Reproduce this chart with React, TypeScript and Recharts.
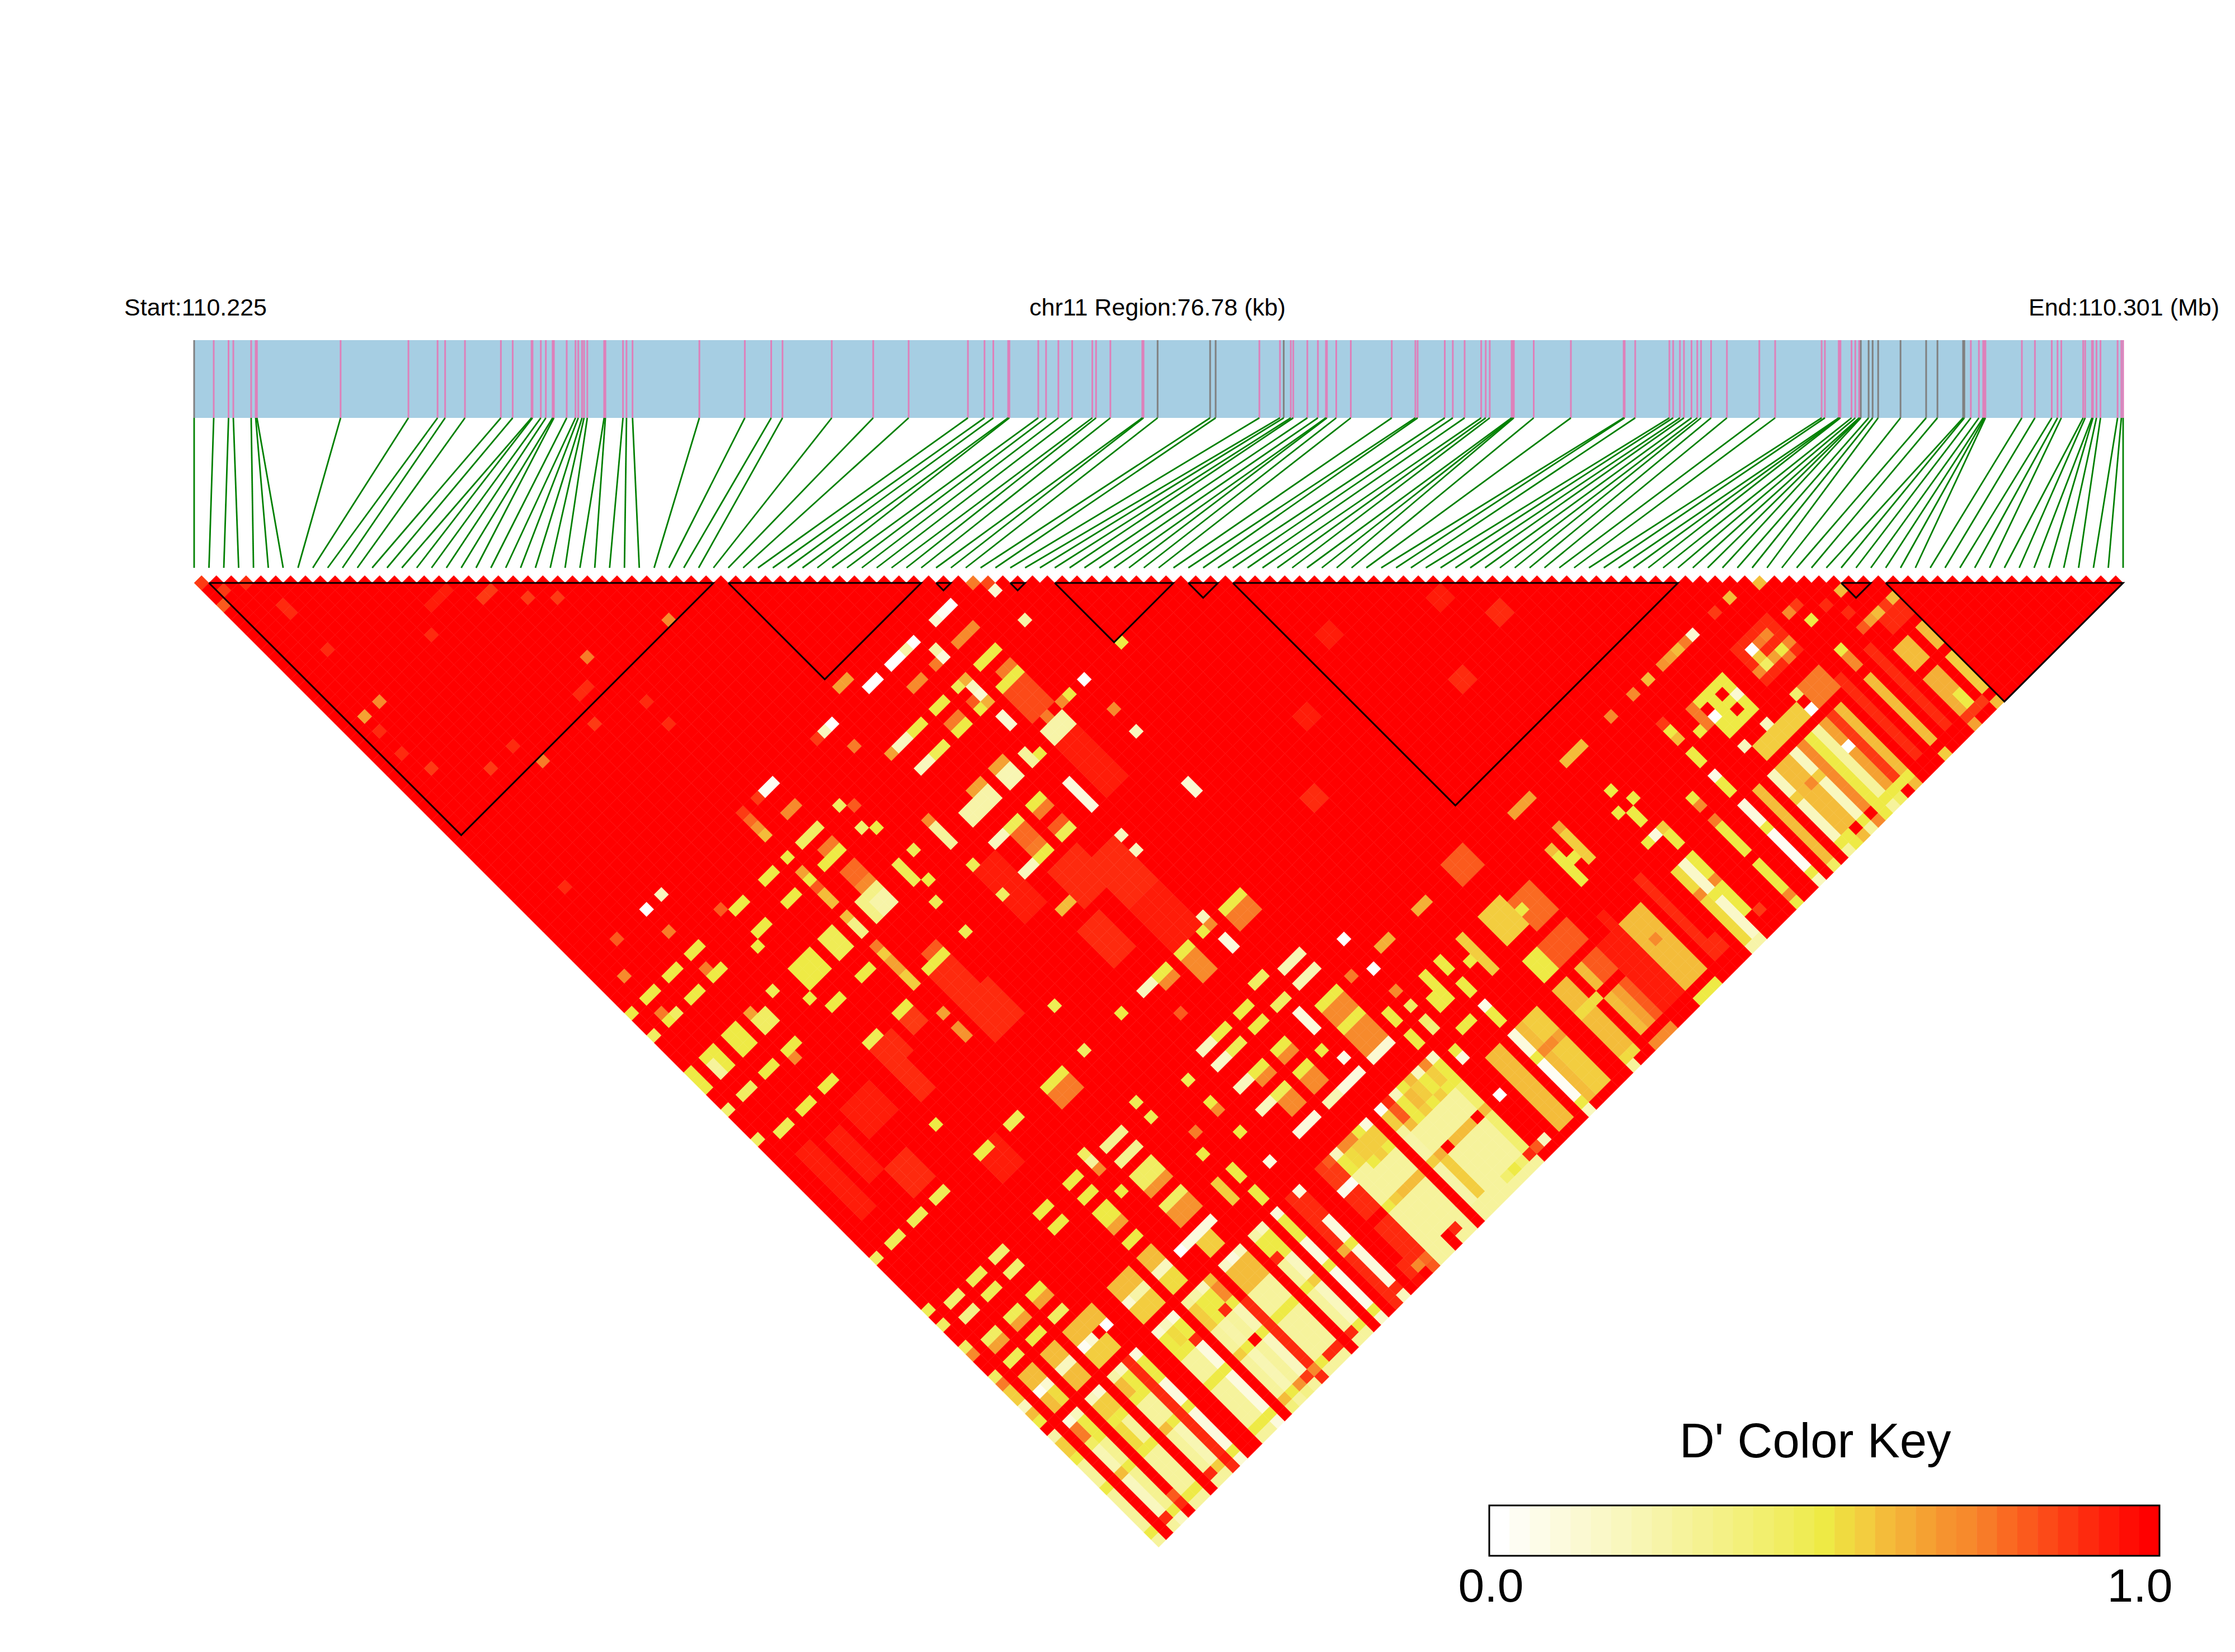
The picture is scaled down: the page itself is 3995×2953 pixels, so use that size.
import { ScatterChart, Scatter, XAxis, YAxis, ReferenceArea, ReferenceLine } from "recharts";

// SNP positions along the region, in kb from the start (110.225 Mb)
const snpKb = [
  0, 0.78, 1.37, 1.56, 2.27, 2.45, 2.5, 5.83, 8.53, 9.69, 9.99, 10.78, 12.21, 12.68, 13.43, 13.47, 13.8, 14.0, 14.27, 14.32,
  14.83, 15.18, 15.29, 15.44, 15.52, 15.65, 16.32, 16.37, 17.07, 17.21, 17.45, 20.11, 21.92, 22.97, 23.42, 25.38, 27.03, 28.44, 30.8, 31.46,
  31.81, 32.4, 32.45, 33.6, 33.91, 34.4, 34.95, 35.75, 35.9, 36.47, 37.74, 37.79, 38.35, 40.44, 40.66, 42.4, 43.22, 43.37, 43.65, 43.75,
  44.31, 44.73, 45.05, 45.09, 45.46, 46.04, 47.67, 48.61, 48.7, 49.78, 50.1, 50.57, 51.23, 51.41, 51.57, 52.44, 52.49, 52.53, 53.32, 54.8,
  56.9, 56.94, 57.36, 58.72, 58.87, 59.14, 59.3, 59.6, 59.83, 59.98, 60.38, 61.01, 62.3, 62.93, 64.78, 64.91, 65.46, 65.5, 65.53, 65.97,
  66.12, 66.27, 66.3, 66.34, 66.65, 66.81, 67.03, 67.92, 68.94, 69.39, 70.41, 70.46, 70.72, 71.04, 71.21, 71.26, 71.3, 72.75, 73.27, 73.94,
  74.17, 74.32, 75.19, 75.27, 75.54, 75.58, 75.72, 75.88, 76.56, 76.71, 76.78,
];
const greySnps = [0, 52, 53, 54, 57, 103, 104, 105, 106, 107, 108, 109, 110, 111];
const regionKb = 76.78;

// LD blocks as [first SNP, last SNP]
const ldBlocks = [[1, 35], [36, 49], [50, 51], [55, 56], [58, 66], [67, 69], [70, 100], [111, 113], [114, 130]];

// colour key, white to red
const keyColors = [
  "#FFFFFF", "#FEFDF3", "#FDFCE8", "#FCFADD", "#FBF9D2", "#FAF8C8", "#F9F7BE", "#F8F6B3", "#F7F4A8", "#F6F39C", "#F5F291",
  "#F4F186", "#F3F07A", "#F2EF6E", "#F1ED62", "#EFEC55", "#EEEA45", "#F0DB40", "#F3CD3F", "#F4BC3A", "#F4AF37", "#F5A132",
  "#F6932F", "#F78A2C", "#F87B28", "#FA6A22", "#FB5A1D", "#FC4A18", "#FD3A13", "#FE2A0E", "#FF1C09", "#FF0D04", "#FF0000",
];

// j groups of the lower right stripes
const tailBands = [[116, 116], [117, 118], [119, 119], [120, 122], [123, 123], [124, 128], [129, 129], [130, 130]];
// D' x 100 of SNP i against each j group, i = 0..61
const tailRows = [
  [25, 55, 50, 28, 50, 28, 50, 28], [100, 100, 100, 100, 100, 100, 100, 100], [12, 75, 45, 22, 58, 20, 90, 28], [20, 50, 50, 32, 50, 32, 50, 20],
  [100, 100, 100, 100, 100, 100, 88, 100], [20, 55, 50, 52, 50, 30, 50, 30], [15, 55, 50, 30, 50, 30, 50, 30], [100, 100, 100, 100, 100, 100, 100, 100],
  [25, 60, 50, 28, 60, 28, 90, 28], [20, 50, 50, 30, 50, 22, 55, 30], [90, 90, 90, 90, 90, 90, 92, 90], [12, 50, 50, 12, 50, 12, 50, 15],
  [100, 100, 100, 100, 100, 100, 100, 100], [100, 100, 100, 100, 100, 100, 100, 100], [15, 50, 50, 28, 50, 28, 50, 28], [20, 52, 50, 30, 50, 28, 50, 28],
  [12, 50, 90, 12, 50, 10, 50, 12], [100, 100, 100, 100, 100, 100, 100, 100], [30, 55, 55, 28, 55, 28, 58, 38], [25, 50, 50, 25, 50, 22, 50, 30],
  [20, 50, 88, 30, 100, 30, 68, 35], [60, 70, 50, 22, 50, 20, 85, 30], [100, 100, 100, 90, 90, 90, 72, 90], [18, 58, 60, 30, 50, 30, 50, 30],
  [12, 58, 58, 30, 50, 30, 90, 30], [20, 60, 60, 30, 50, 30, 90, 28], [100, 100, 100, 100, 100, 100, 100, 100], [25, 50, 90, 28, 50, 28, 90, 28],
  [20, 50, 50, 20, 55, 20, 50, 30], [100, 100, 100, 100, 100, 100, 100, 100], [10, 50, 50, 10, 50, 8, 50, 18], [100, 100, 100, 100, 100, 100, 100, 100],
  [88, 90, 90, 88, 62, 88, 88, 90], [12, 90, 88, 12, 50, 12, 90, 20], [100, 100, 100, 100, 100, 100, 100, 100], [100, 100, 100, 100, 100, 100, 88, 95],
  [85, 85, 8, 88, 100, 88, 72, 100], [80, 85, 5, 88, 100, 88, 78, 80], [20, 50, 30, 28, 50, 28, 30, 30], [70, 52, 30, 28, 55, 28, 30, 30],
  [70, 55, 50, 30, 60, 30, 100, 100], [50, 55, 55, 28, 60, 28, 88, 30], [12, 55, 50, 28, 60, 30, 30, 30], [100, 100, 100, 100, 100, 100, 100, 100],
  [5, 55, 30, 25, 55, 25, 30, 30], [88, 80, 60, 30, 62, 55, 30, 30], [20, 50, 50, 28, 100, 28, 30, 30], [50, 60, 55, 28, 60, 28, 30, 30],
  [60, 55, 50, 28, 60, 30, 40, 30], [20, 50, 55, 30, 60, 30, 50, 30], [70, 55, 50, 30, 100, 30, 40, 30], [18, 50, 50, 40, 60, 40, 88, 30],
  [100, 100, 100, 100, 100, 100, 80, 100], [100, 100, 100, 100, 3, 100, 20, 100], [100, 100, 100, 100, 100, 100, 100, 100], [50, 100, 100, 60, 60, 60, 60, 100],
  [50, 100, 100, 60, 60, 60, 60, 100], [100, 100, 100, 100, 100, 100, 100, 100], [8, 50, 100, 12, 50, 5, 50, 20], [100, 100, 100, 58, 70, 58, 58, 100],
  [100, 100, 100, 55, 72, 55, 55, 100], [100, 100, 100, 55, 65, 55, 55, 100],
];

// other cells that are not full red: [i from, i to, j from, j to, D' x 100]
const lowPatches = [
  // faint red zones
  [41, 44, 80, 85, 88], [36, 38, 84, 88, 88], [38, 41, 78, 82, 88], [23, 26, 81, 85, 90], [23, 25, 77, 80, 88], [14, 16, 78, 80, 88], [8, 11, 80, 83, 92],
  [14, 15, 81, 84, 90], [7, 9, 87, 90, 90], [14, 16, 92, 95, 92], [2, 3, 80, 88, 93], [5, 6, 81, 86, 93],
  [41, 44, 86, 91, 93], [33, 35, 73, 79, 93], [47, 49, 70, 76, 92], [85, 86, 90, 91, 90], [78, 79, 92, 93, 90], [82, 83, 85, 86, 92], [91, 92, 88, 89, 92], [72, 73, 80, 81, 92], [60, 61, 90, 91, 90], [65, 66, 84, 85, 92],
  // block one spots and top row
  [0, 0, 1, 1, 85], [3, 3, 4, 4, 88], [1, 1, 3, 3, 85], [0, 0, 4, 4, 80], [14, 16, 18, 18, 93], [18, 19, 21, 21, 85], [4, 4, 8, 9, 88], [4, 4, 14, 14, 88], [4, 4, 21, 21, 70],
  [2, 2, 21, 21, 65], [12, 12, 20, 20, 88], [21, 21, 24, 24, 85], [23, 23, 26, 26, 85], [21, 21, 32, 32, 75], [29, 29, 35, 35, 70], [17, 17, 37, 37, 85], [11, 11, 36, 36, 75],
  [22, 22, 39, 39, 88], [4, 4, 46, 46, 88], [52, 52, 53, 53, 75], [53, 53, 54, 54, 82], [105, 105, 106, 106, 58], [102, 102, 105, 105, 60], [100, 100, 105, 105, 85],
  [18, 19, 34, 34, 90], [10, 10, 33, 33, 90], [7, 7, 33, 33, 85], [3, 3, 29, 29, 85], [2, 2, 26, 26, 90], [2, 2, 23, 23, 90], [22, 22, 42, 42, 90],
  [105, 105, 110, 110, 70], [106, 106, 110, 110, 85], [106, 106, 112, 112, 50], [108, 108, 112, 112, 90], [109, 109, 114, 114, 90], [110, 110, 112, 112, 60],
  // j = 53 and 56 line
  [10, 10, 53, 53, 20], [8, 8, 53, 53, 3], [4, 4, 53, 53, 80], [8, 8, 56, 56, 75], [2, 2, 56, 56, 70], [24, 25, 53, 53, 5], [23, 23, 53, 53, 85], [24, 25, 56, 56, 72],
  [49, 49, 53, 53, 3], [48, 48, 53, 53, 5], [47, 47, 53, 53, 15], [44, 44, 53, 53, 3], [43, 43, 53, 53, 25], [41, 42, 53, 53, 3], [38, 39, 53, 53, 3], [33, 33, 53, 53, 3], [32, 32, 53, 53, 20], [31, 31, 53, 53, 85],
  [53, 53, 55, 55, 15], [47, 49, 56, 56, 72], [45, 45, 55, 55, 25], [45, 45, 56, 56, 10], [44, 44, 56, 56, 75], [41, 42, 56, 56, 72], [36, 37, 51, 51, 65], [33, 33, 56, 56, 75],
  [21, 21, 53, 53, 85], [21, 21, 54, 54, 78], [21, 21, 55, 55, 68], [21, 21, 56, 56, 60],
  // j = 59 to 65
  [28, 28, 59, 59, 45], [29, 29, 60, 60, 80], [23, 25, 59, 59, 45], [23, 25, 62, 62, 50], [24, 25, 61, 61, 75], [24, 25, 64, 65, 78], [21, 21, 59, 59, 50], [21, 21, 61, 61, 65], [21, 21, 62, 62, 50], [21, 21, 63, 63, 80], [21, 21, 64, 65, 60],
  [18, 19, 59, 59, 50], [18, 19, 62, 62, 50], [14, 15, 59, 59, 50], [13, 13, 58, 58, 80], [14, 15, 62, 62, 50], [13, 13, 63, 63, 50], [8, 9, 59, 59, 50], [5, 6, 59, 59, 50], [8, 9, 62, 62, 50], [8, 8, 61, 61, 75], [5, 6, 62, 62, 50], [2, 3, 59, 59, 50],
  [0, 0, 59, 59, 50], [2, 2, 62, 62, 50], [3, 3, 62, 62, 45], [2, 2, 61, 61, 75], [0, 0, 62, 62, 45], [47, 49, 59, 59, 50], [53, 53, 59, 59, 25], [47, 49, 62, 62, 50], [48, 49, 61, 61, 75], [47, 49, 63, 66, 82],
  [44, 44, 59, 59, 48], [45, 45, 59, 59, 62], [45, 45, 60, 60, 20], [45, 45, 61, 61, 15], [45, 45, 62, 62, 62], [44, 44, 62, 62, 50], [44, 44, 61, 61, 80], [41, 42, 59, 59, 50], [41, 42, 62, 62, 50], [41, 42, 61, 61, 75], [45, 45, 64, 65, 15],
  [38, 39, 59, 59, 50], [36, 37, 59, 59, 20], [35, 35, 59, 59, 65], [38, 39, 62, 62, 48], [36, 37, 62, 62, 20], [28, 28, 62, 62, 42], [29, 29, 63, 63, 50], [33, 33, 66, 66, 70],
  // j = 66 to 76
  [23, 25, 67, 69, 35], [24, 25, 68, 69, 25], [24, 25, 66, 66, 70], [21, 21, 67, 67, 60], [21, 21, 68, 69, 35], [18, 19, 67, 69, 48], [14, 16, 67, 69, 50], [13, 13, 70, 70, 50], [11, 11, 67, 67, 48], [8, 8, 67, 67, 65], [8, 9, 68, 69, 45], [5, 6, 67, 69, 50],
  [2, 3, 67, 69, 50], [2, 2, 68, 69, 30], [0, 0, 67, 69, 50], [30, 30, 67, 67, 48], [28, 28, 67, 69, 48], [29, 29, 70, 70, 50], [33, 33, 67, 69, 30], [36, 39, 68, 69, 25], [38, 39, 67, 67, 65], [41, 42, 68, 69, 22], [41, 42, 67, 67, 65],
  [50, 50, 67, 67, 72], [51, 51, 67, 67, 50], [53, 53, 67, 67, 3], [48, 48, 67, 67, 75], [47, 49, 68, 69, 25], [58, 58, 67, 67, 50], [45, 45, 69, 69, 50], [44, 44, 68, 69, 30],
  [5, 6, 72, 72, 50], [2, 3, 72, 72, 45], [0, 0, 72, 72, 40], [8, 9, 72, 72, 50], [8, 8, 73, 73, 72], [14, 15, 72, 72, 50], [18, 19, 72, 72, 50], [21, 21, 71, 71, 75], [21, 21, 72, 72, 55], [21, 21, 73, 74, 65], [21, 21, 75, 76, 55],
  [36, 37, 72, 72, 20], [38, 39, 72, 72, 48], [38, 39, 73, 74, 78], [41, 42, 72, 72, 50], [41, 42, 73, 73, 75], [28, 28, 72, 72, 48], [33, 33, 72, 72, 48], [53, 53, 71, 71, 70], [53, 53, 74, 74, 20], [45, 45, 73, 76, 12], [24, 25, 75, 75, 80], [23, 25, 76, 76, 50],
  [41, 42, 76, 76, 48], [41, 42, 75, 75, 80], [36, 37, 76, 76, 20], [38, 39, 76, 76, 50], [38, 39, 75, 75, 75], [28, 28, 76, 76, 48], [33, 33, 76, 76, 45],
  // j = 77 to 92
  [5, 6, 77, 77, 50], [2, 3, 77, 77, 48], [0, 0, 76, 76, 45], [8, 9, 77, 77, 50], [14, 15, 77, 77, 48], [18, 19, 77, 77, 50], [18, 19, 78, 79, 85], [21, 21, 80, 80, 65], [21, 21, 82, 83, 68], [36, 37, 81, 81, 60], [45, 45, 80, 80, 20], [45, 45, 82, 82, 20],
  [53, 53, 81, 81, 15], [53, 53, 82, 82, 15], [13, 13, 87, 87, 50], [29, 29, 87, 87, 48], [14, 15, 92, 92, 50], [18, 19, 92, 92, 48], [23, 25, 92, 92, 50], [23, 25, 93, 94, 75], [28, 28, 92, 92, 45], [33, 33, 92, 92, 50], [36, 37, 92, 92, 20], [38, 39, 92, 92, 50], [38, 39, 93, 93, 70],
  [8, 9, 92, 92, 48], [5, 6, 92, 92, 48], [2, 3, 92, 92, 48], [0, 0, 92, 92, 45], [45, 45, 91, 91, 20], [44, 44, 92, 92, 50], [45, 45, 92, 92, 70], [41, 42, 92, 92, 50], [41, 42, 93, 95, 72], [47, 49, 92, 92, 50], [47, 49, 93, 94, 75], [45, 45, 94, 95, 12], [37, 37, 96, 96, 80],
  // j = 99 to 102
  [28, 28, 99, 99, 48], [21, 21, 99, 99, 45], [21, 21, 100, 100, 30], [21, 21, 101, 101, 70], [23, 25, 100, 100, 33], [23, 25, 102, 102, 33], [18, 19, 100, 100, 50], [18, 19, 102, 102, 50], [14, 15, 100, 100, 50], [14, 15, 102, 102, 50], [28, 28, 101, 101, 48],
  [8, 9, 100, 100, 40], [8, 9, 102, 102, 40], [5, 6, 100, 100, 48], [5, 6, 102, 102, 48], [2, 3, 100, 100, 40], [2, 3, 102, 102, 35], [0, 0, 99, 99, 48], [0, 0, 101, 101, 45], [33, 33, 101, 101, 48],
  [36, 37, 100, 100, 20], [38, 39, 100, 100, 50], [36, 37, 102, 102, 18], [38, 39, 102, 102, 48], [41, 42, 100, 100, 50], [41, 42, 102, 102, 50], [44, 45, 99, 99, 45], [44, 45, 102, 102, 45], [47, 49, 100, 100, 22], [47, 49, 102, 102, 22], [53, 53, 102, 102, 3],
  // j = 104 to 114
  [23, 25, 104, 105, 45], [23, 25, 106, 106, 68], [18, 19, 104, 105, 50], [18, 19, 106, 106, 65], [21, 21, 104, 104, 50], [5, 6, 105, 105, 48], [5, 6, 106, 106, 65], [8, 9, 105, 105, 50], [8, 9, 106, 106, 65], [8, 9, 108, 108, 45], [2, 3, 105, 105, 45], [2, 3, 106, 106, 65], [5, 6, 108, 108, 50], [2, 3, 108, 108, 48],
  [36, 37, 105, 105, 20], [38, 39, 105, 105, 50], [38, 39, 106, 106, 70], [36, 37, 108, 108, 20], [38, 39, 108, 108, 48], [38, 39, 109, 110, 72], [41, 42, 105, 105, 50], [41, 42, 106, 106, 70], [41, 42, 108, 108, 50], [41, 42, 109, 110, 70], [44, 44, 108, 108, 50], [45, 45, 104, 106, 10], [45, 45, 110, 110, 8],
  [47, 49, 105, 105, 50], [47, 49, 106, 108, 72], [47, 49, 108, 108, 50], [47, 49, 109, 111, 72], [47, 49, 112, 112, 15], [51, 51, 105, 105, 75], [53, 53, 106, 106, 3], [53, 53, 109, 109, 72], [53, 53, 111, 111, 45], [55, 56, 105, 105, 62], [60, 61, 105, 105, 62], [51, 51, 110, 111, 50], [53, 53, 113, 113, 42], [53, 53, 114, 114, 38], [51, 51, 113, 114, 50],
  [33, 33, 104, 104, 50], [33, 33, 105, 105, 70], [33, 33, 108, 108, 50], [30, 30, 105, 105, 75], [29, 29, 107, 107, 50], [30, 30, 110, 111, 50], [30, 30, 113, 114, 50], [33, 33, 112, 112, 10], [23, 25, 108, 108, 45], [23, 25, 109, 110, 68], [18, 19, 108, 108, 50],
  [5, 6, 110, 114, 58], [5, 6, 112, 112, 20], [2, 3, 110, 111, 58], [3, 3, 112, 112, 15], [2, 2, 112, 112, 5], [3, 3, 113, 114, 52], [2, 2, 113, 114, 60], [11, 11, 112, 112, 3], [9, 9, 112, 112, 15], [8, 8, 112, 112, 5], [8, 11, 110, 111, 58], [8, 10, 113, 114, 55],
  [14, 16, 110, 111, 58], [14, 14, 112, 112, 15], [15, 16, 112, 112, 25], [14, 16, 113, 114, 55], [18, 19, 110, 111, 58], [18, 19, 112, 112, 20], [18, 19, 113, 114, 52],
  [21, 21, 112, 112, 3], [22, 22, 112, 112, 10], [23, 25, 112, 112, 12], [23, 24, 113, 114, 55], [37, 39, 112, 112, 12], [41, 42, 112, 112, 22], [43, 45, 112, 112, 10], [28, 28, 110, 112, 55], [55, 56, 112, 113, 50], [56, 56, 110, 111, 50], [58, 58, 110, 111, 50], [58, 58, 113, 114, 50], [60, 60, 112, 112, 50], [61, 61, 110, 114, 55],
  [0, 0, 104, 104, 45], [0, 0, 105, 105, 70], [0, 0, 108, 108, 45], [0, 0, 109, 109, 75], [0, 0, 110, 111, 55], [0, 0, 112, 112, 20], [0, 0, 113, 113, 58], [0, 0, 114, 114, 50],
  // SNP i > 60, upper part
  [65, 67, 104, 106, 80], [73, 75, 105, 105, 65], [81, 81, 110, 110, 50], [82, 82, 112, 112, 50], [80, 80, 112, 112, 50], [81, 81, 113, 114, 50], [73, 73, 110, 110, 60], [73, 73, 111, 114, 50], [75, 75, 109, 109, 65], [75, 75, 110, 113, 55], [74, 74, 112, 112, 50],
  [64, 66, 110, 113, 55], [67, 69, 111, 114, 78], [67, 67, 112, 112, 50], [64, 65, 116, 118, 50], [66, 69, 116, 118, 80], [89, 89, 109, 109, 85], [89, 89, 110, 110, 50], [89, 89, 111, 111, 58], [91, 91, 112, 112, 50], [89, 89, 113, 114, 50], [91, 91, 105, 105, 60], [89, 89, 105, 105, 70], [86, 86, 105, 105, 70], [80, 82, 105, 105, 60],
  [97, 97, 105, 105, 15], [96, 96, 105, 105, 75], [95, 95, 105, 105, 58], [94, 94, 105, 105, 65], [93, 93, 105, 105, 68], [93, 96, 110, 114, 50], [92, 92, 110, 112, 75], [93, 93, 112, 112, 3], [96, 96, 112, 112, 15], [95, 95, 111, 111, 100], [95, 95, 113, 113, 100], [93, 93, 111, 111, 100],
  [99, 103, 109, 113, 88], [100, 100, 110, 110, 3], [100, 100, 112, 112, 45], [102, 102, 112, 112, 50], [100, 100, 111, 111, 55], [102, 102, 110, 110, 70], [101, 101, 112, 112, 65], [99, 99, 112, 112, 70], [103, 103, 112, 112, 72], [101, 101, 110, 110, 75], [102, 102, 113, 113, 75],
  [106, 106, 116, 116, 50], [106, 106, 117, 118, 70], [100, 100, 118, 118, 3], [100, 100, 116, 116, 40], [96, 96, 116, 116, 20], [93, 93, 116, 116, 20], [94, 99, 117, 118, 55], [101, 103, 116, 118, 75], [111, 111, 116, 116, 58], [110, 110, 116, 116, 65], [113, 113, 116, 116, 60], [109, 109, 116, 116, 80], [112, 112, 116, 116, 85], [111, 113, 117, 118, 88],
  // SNP i > 60, lower right stripes
  [64, 65, 120, 128, 60], [64, 66, 123, 123, 52], [64, 65, 129, 129, 52], [64, 64, 130, 130, 30], [67, 67, 120, 122, 60], [68, 69, 120, 122, 80], [67, 67, 124, 128, 60], [68, 68, 124, 128, 65], [69, 69, 124, 128, 80], [67, 69, 130, 130, 70], [70, 71, 120, 128, 92],
  [73, 75, 120, 128, 58], [74, 74, 123, 123, 72], [74, 74, 129, 129, 100], [73, 75, 130, 130, 50], [77, 77, 118, 128, 90], [72, 72, 118, 128, 92], [78, 78, 127, 128, 88],
  [80, 80, 120, 129, 52], [81, 81, 120, 129, 18], [82, 82, 120, 127, 50], [80, 80, 123, 123, 72], [82, 82, 123, 123, 72], [83, 83, 128, 128, 85], [81, 81, 124, 124, 50], [80, 81, 130, 130, 25], [80, 80, 116, 116, 50], [81, 81, 116, 116, 10], [82, 82, 116, 116, 55], [82, 82, 117, 118, 50],
  [86, 86, 116, 116, 50], [86, 86, 117, 117, 70], [86, 86, 119, 119, 75], [86, 86, 120, 123, 50], [86, 86, 125, 128, 50], [86, 86, 129, 129, 70], [86, 86, 130, 130, 50],
  [89, 89, 116, 116, 8], [89, 89, 117, 118, 50], [89, 89, 120, 122, 12], [89, 89, 123, 123, 50], [89, 89, 124, 128, 5], [89, 89, 129, 129, 50], [89, 89, 130, 130, 20], [91, 91, 120, 129, 58], [91, 91, 130, 130, 45],
  [93, 93, 120, 122, 20], [93, 93, 123, 123, 55], [93, 93, 124, 128, 20], [94, 95, 120, 128, 58], [95, 95, 123, 123, 72], [96, 96, 120, 128, 20], [96, 96, 123, 123, 55], [97, 97, 120, 128, 72], [98, 98, 120, 128, 50], [99, 99, 120, 128, 28], [100, 100, 120, 128, 65], [100, 100, 123, 123, 3], [101, 101, 120, 128, 85], [102, 102, 120, 128, 58],
  [93, 102, 129, 129, 50], [93, 102, 130, 130, 30], [95, 95, 129, 129, 100], [97, 97, 129, 129, 100], [94, 94, 130, 130, 50], [95, 95, 130, 130, 60], [97, 97, 130, 130, 72], [98, 98, 130, 130, 50], [100, 100, 130, 130, 45], [101, 101, 130, 130, 100], [102, 102, 130, 130, 58], [110, 110, 130, 130, 65],
  [104, 104, 118, 128, 90], [106, 106, 120, 128, 58], [106, 106, 130, 130, 55], [108, 108, 118, 128, 90],
  [110, 111, 120, 122, 60], [110, 111, 124, 128, 62], [111, 111, 127, 128, 50], [113, 113, 120, 122, 60], [113, 113, 124, 128, 55], [113, 113, 130, 130, 58], [110, 112, 129, 129, 85],
  // single cells after the table
  [53, 53, 117, 117, 50], [53, 53, 118, 118, 10], [4, 4, 128, 128, 80], [2, 2, 116, 116, 12], [35, 35, 128, 128, 90],
];

const CELL = 13.26; // half diagonal of one diamond in pixels
const W = 3995;
const H = 2953;
const LEFT = 347;
const PITCH = (3795 - LEFT) / 130;
const TOP = 1042;

const colorOf = (v: number) => keyColors[Math.min(32, Math.floor(v * 33))];

const xAt = (px: number) => (px - LEFT) / PITCH;
const yAt = (px: number) => (px - TOP) / CELL;

function buildCells() {
  const n = snpKb.length;
  const grid: Record<string, number> = {};
  tailRows.forEach((row, i) => {
    row.forEach((v, g) => {
      for (let j = tailBands[g][0]; j <= tailBands[g][1]; j++) grid[i + "," + j] = v;
    });
  });
  lowPatches.forEach(([i0, i1, j0, j1, v]) => {
    for (let i = i0; i <= i1; i++) for (let j = j0; j <= j1; j++) grid[i + "," + j] = v;
  });
  const out: { x: number; y: number; v: number }[] = [];
  for (let i = 0; i < n - 1; i++) {
    for (let j = i + 1; j < n; j++) {
      const v = grid[i + "," + j];
      out.push({ x: (i + j) / 2, y: j - i - 1, v: (v === undefined ? 100 : v) / 100 });
    }
  }
  return out;
}

const cells = buildCells();

function Diamond(props: any) {
  const { cx, cy, payload } = props;
  const c = colorOf(payload.v);
  return (
    <polygon
      points={`${cx},${cy - CELL} ${cx + CELL},${cy} ${cx},${cy + CELL} ${cx - CELL},${cy}`}
      fill={c}
      stroke={c}
      strokeWidth={0.5}
    />
  );
}

const NoDot = () => null;
const font = "'Liberation Sans', Arial, sans-serif";

export default function App() {
  const barTop = yAt(608);
  const barBottom = yAt(747);
  const lineEnd = yAt(1015);
  return (
    <div style={{ position: "absolute", left: 0, top: 0, width: W, height: H, background: "#fff" }}>
      <ScatterChart width={W} height={H} margin={{ top: 0, right: 0, bottom: 0, left: 0 }}>
        <XAxis type="number" dataKey="x" hide domain={[xAt(0), xAt(W)]} allowDataOverflow />
        <YAxis type="number" dataKey="y" hide reversed domain={[yAt(0), yAt(H)]} allowDataOverflow />
        <ReferenceArea x1={0} x2={130} y1={barTop} y2={barBottom} fill="#A6CEE3" fillOpacity={1} stroke="none" />
        {snpKb.map((kb, i) => {
          const px = (kb / regionKb) * 130;
          return (
            <ReferenceLine
              key={"t" + i}
              segment={[{ x: px, y: barTop }, { x: px, y: barBottom }]}
              stroke={greySnps.includes(i) ? "#808080" : "#DE80BA"}
              strokeWidth={3}
            />
          );
        })}
        {snpKb.map((kb, i) => (
          <ReferenceLine
            key={"c" + i}
            segment={[{ x: (kb / regionKb) * 130, y: barBottom }, { x: i, y: lineEnd }]}
            stroke="#008000"
            strokeWidth={2.8}
          />
        ))}
        <Scatter data={cells} isAnimationActive={false} shape={Diamond} />
        {ldBlocks.map(([a, b]) => (
          <Scatter
            key={"b" + a}
            data={[{ x: a, y: 0 }, { x: (a + b) / 2, y: b - a }, { x: b, y: 0 }, { x: a, y: 0 }]}
            isAnimationActive={false}
            shape={NoDot}
            line={{ stroke: "#000", strokeWidth: 3, fill: "none" }}
          />
        ))}
        {keyColors.map((c, k) => (
          <rect key={c} x={2662 + (k * 1198) / 33} y={2691} width={1198 / 33 + 0.5} height={90} fill={c} />
        ))}
        <rect x={2662} y={2691} width={1198} height={90} fill="none" stroke="#000" strokeWidth={3} />
        <text x={222} y={564} fontFamily={font} fontSize={43}>Start:110.225</text>
        <text x={1840} y={564} fontFamily={font} fontSize={43}>chr11 Region:76.78 (kb)</text>
        <text x={3626} y={564} fontFamily={font} fontSize={43}>End:110.301 (Mb)</text>
        <text x={3002} y={2605} fontFamily={font} fontSize={87}>D' Color Key</text>
        <text x={2665} y={2863} textAnchor="middle" fontFamily={font} fontSize={84}>0.0</text>
        <text x={3825} y={2863} textAnchor="middle" fontFamily={font} fontSize={84}>1.0</text>
      </ScatterChart>
    </div>
  );
}
